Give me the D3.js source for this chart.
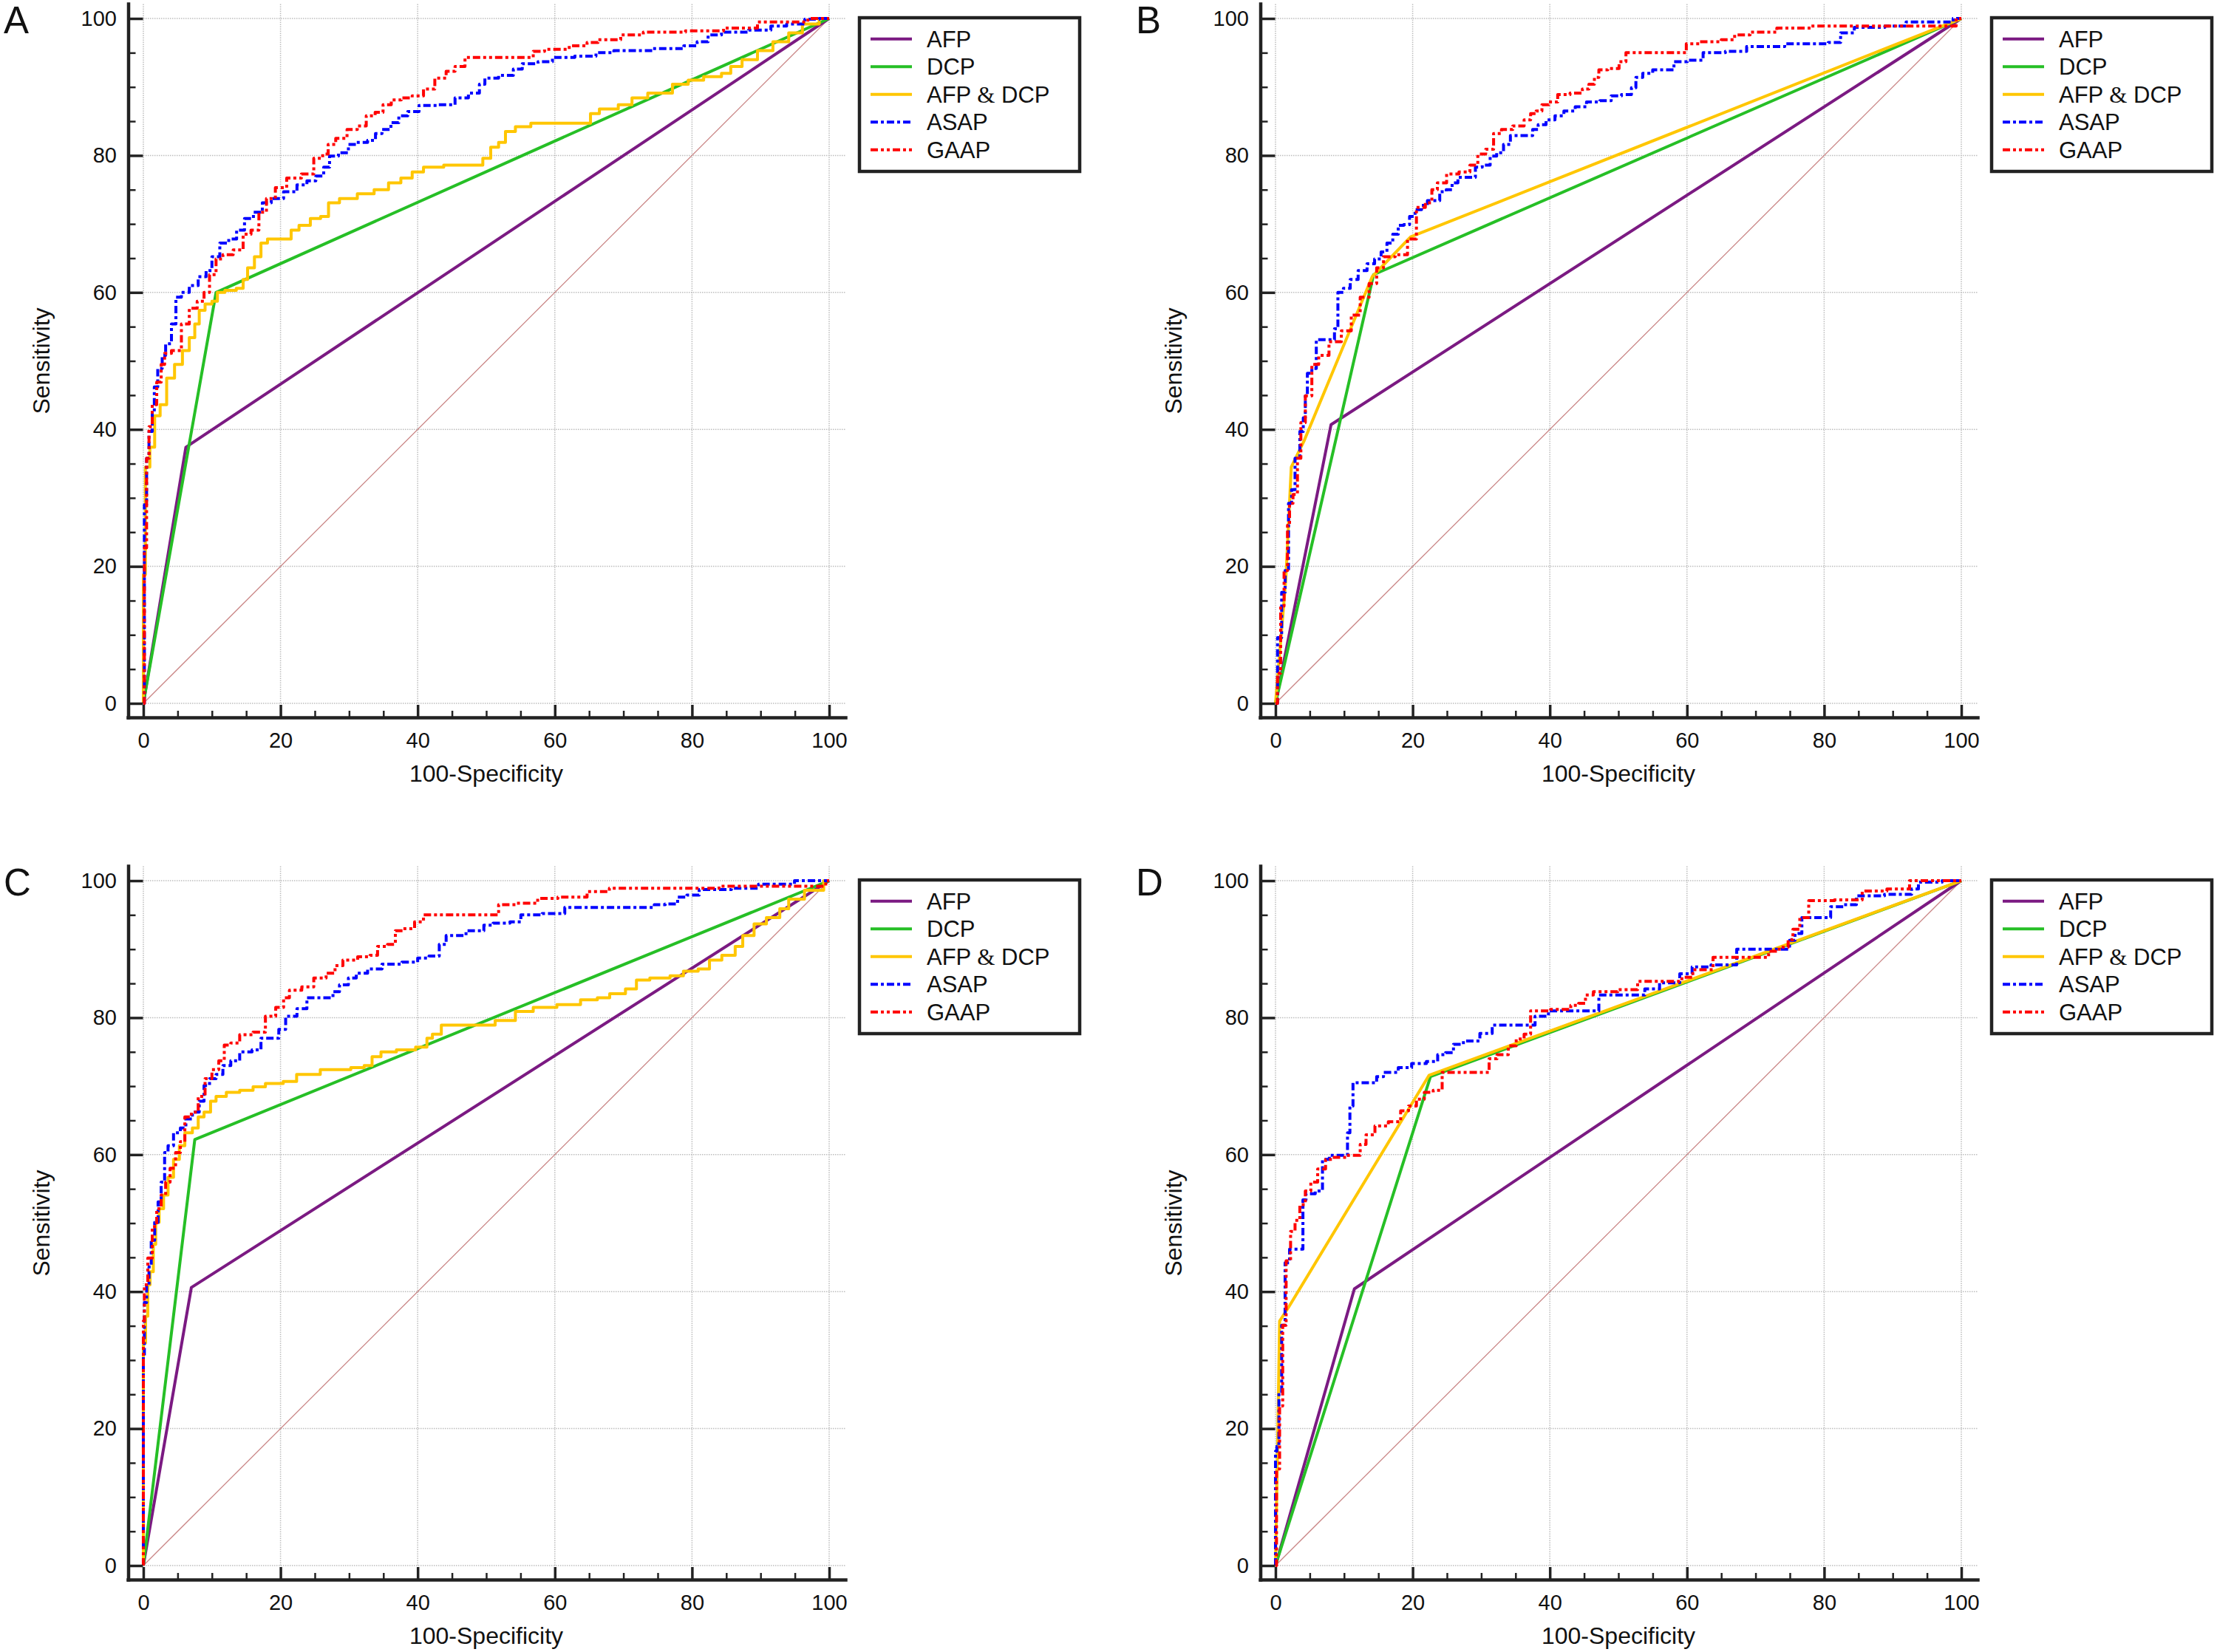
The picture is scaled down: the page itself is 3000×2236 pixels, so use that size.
<!DOCTYPE html>
<html>
<head>
<meta charset="utf-8">
<script src="https://cdn.jsdelivr.net/npm/d3@7"></script>
<style>
  body { margin: 0; background: #fff; }
  text { font-family: "Liberation Sans", Arial, sans-serif; fill: #111; }
</style>
</head>
<body>
<script>
// panel letters, series names and ticks
var panels = ["A", "B", "C", "D"];
var seriesNames = ["AFP", "DCP", "AFP & DCP", "ASAP", "GAAP"];
var majorTicks = [0, 20, 40, 60, 80, 100];
var minorTicks = [5, 10, 15, 25, 30, 35, 45, 50, 55, 65, 70, 75, 85, 90, 95];

// ROC points: [100-specificity, sensitivity]
var afpA = [[0,0],[6.2,37.4],[100,100]];
var dcpA = [[0,0],[10.6,60],[100,100]];
var comboA = [[0,0],[0,18.8],[0.6,34.5],[1.3,37.4],[2,42],[2.9,43.6],[3.9,47.5],[5.2,49.5],[6.2,51.5],[7.2,53.4],[7.8,55.4],[8.5,57.4],[9.5,58.3],[10.5,58.7],[11.1,60],[12.7,60.3],[14.4,60.6],[14.7,61.9],[15.7,63.6],[16.7,65.2],[17.6,67.2],[18.6,67.8],[21.2,67.8],[21.9,69.1],[23.5,69.8],[25.2,70.8],[26.5,71.1],[27.5,73.1],[29.7,73.7],[32.7,74.4],[34.6,75],[36.9,76],[38.2,76.7],[40.2,77.6],[41.5,78.3],[46.1,78.6],[49,78.6],[50,79.6],[51.3,81.2],[52.3,81.9],[53.3,83.5],[55.2,84.2],[57.8,84.7],[65,84.7],[65.4,86.1],[67.6,86.8],[70.9,87.4],[71.6,88.4],[75.5,89.1],[78.8,90.4],[80.1,91],[83.3,91.5],[85.3,92],[86,93],[88.6,94],[90.5,95.3],[93.1,96.6],[95.1,97.9],[97.1,99.2],[100,100]];
var asapA = [[0,0],[0.3,29],[0.65,35.8],[1,39.7],[1.6,42.3],[1.6,46.2],[2.6,48.9],[2.9,50.8],[3.6,52.5],[4.6,55.4],[4.9,59.3],[6.2,60],[7.2,61],[8.8,62.3],[9.5,63.2],[10.5,65.2],[11.8,67.2],[13.1,67.8],[14.1,69.1],[15.4,70.8],[16.7,71.7],[18,73.1],[19.3,73.7],[21.6,74.7],[23.2,75.7],[24.5,76.3],[25.8,77],[26.8,78.3],[27.5,79.9],[29.4,80.4],[30.4,81.6],[31.7,81.9],[33.7,82.2],[34,83.2],[35.6,83.8],[36.6,84.8],[37.9,85.8],[39.2,86.4],[41.2,87.3],[44.8,87.4],[46.1,88.4],[48.7,89.1],[49.3,90.4],[50.3,91.3],[53.3,91.7],[54.6,92.6],[55.9,93.4],[59.2,93.7],[60.1,94.3],[65.7,94.5],[66.3,95],[70.9,95.3],[77.5,95.6],[80.1,96],[81.4,96.6],[83.3,97.6],[85.3,98],[91.2,98.3],[91.8,98.9],[95.8,99.2],[97.1,99.9],[100,100]];
var gaapA = [[0,0],[0.3,22.7],[0.65,35.8],[1,40.4],[1.6,43.6],[2.3,46.9],[2.9,49.5],[3.3,51.1],[4.9,51.5],[6.2,55.4],[7.2,57.7],[8.5,58.7],[9.2,60],[10.1,62.6],[11.1,64.9],[12.1,65.5],[14.1,66.2],[15,68.5],[16.4,69.1],[17.3,71.7],[18.6,73.7],[19.9,75.3],[21.9,76.7],[24.2,77.3],[25.5,79.6],[26.8,80.2],[27.1,81.6],[29,82.5],[30.4,83.8],[32,84.3],[33,85.8],[34.6,86.3],[35.3,87.4],[37,88.1],[38.2,88.4],[40.2,88.7],[41.5,89.7],[43.5,91.3],[44.8,92.3],[46.1,93],[47.7,94.3],[56.5,94.3],[57.2,95.2],[59.8,95.5],[64.4,96],[65,96.5],[67.6,96.9],[71.6,97.6],[74.2,98],[83.9,98.2],[85.3,98.6],[93.8,99.5],[100,100]];

var afpB = [[0,0],[8.1,40.7],[100,100]];
var dcpB = [[0,0],[14.3,62.6],[100,100]];
var comboB = [[0,0],[1.5,18],[2.3,34.5],[4.2,38.4],[14.1,62.3],[19.7,68.1],[100,100]];
var asapB = [[0,0],[0.6,9.6],[1.2,16.2],[1.6,19.4],[2.2,29.2],[2.5,31.2],[3.2,35.8],[3.9,39.7],[4.2,41.7],[4.5,44.9],[4.8,48.2],[5.8,48.9],[6.1,53.1],[8.4,53.1],[8.8,54.7],[9.4,60],[10.4,60.6],[11.4,61.9],[12.7,63.2],[14,64.2],[14.9,64.9],[15.9,65.9],[16.6,67.2],[17.6,68.5],[18.2,69.8],[19.2,69.9],[19.9,71.1],[20.8,72.1],[21.8,72.7],[22.5,73.4],[23.5,73.4],[24.4,74.7],[25.4,75],[26.1,76],[27.1,76.8],[29,76.8],[29.3,78.3],[31,78.6],[31.6,79.9],[32.9,80.4],[33.6,81.6],[34.9,82.9],[37.2,82.9],[37.8,83.8],[38.8,84.5],[40.1,85.2],[41.4,85.8],[42.7,86.5],[44.7,87.1],[46,87.8],[48.6,88],[49.3,88.7],[51.6,88.9],[52.2,89.9],[52.9,91.4],[54.2,92],[55.8,92.5],[57.8,92.5],[58.4,93.7],[61.7,93.9],[63,95],[68.2,95.2],[69.2,95.9],[79.3,96.3],[81.9,96.5],[82.9,97.9],[85.9,98.7],[91.8,98.9],[92.1,99.5],[97.6,99.5],[100,100]];
var gaapB = [[0,0],[0.6,4.4],[0.9,14.2],[1.6,19.4],[1.9,26],[2.2,29.2],[2.9,30.5],[3.5,35.8],[3.9,41],[4.8,44.9],[5.8,49.5],[6.8,50.8],[8.8,52.8],[10.4,54.4],[11.7,56.7],[13,59.3],[14.3,61.3],[15.2,63.6],[16.3,65.2],[18.6,65.5],[19.9,67.8],[21.2,72.4],[22.5,73.1],[23.1,75],[24.1,76],[25.8,77.3],[27.7,77.6],[29,78.6],[30,80.2],[31.3,80.9],[32.3,83.2],[33.6,83.8],[35.6,84.3],[36.9,85.2],[37.5,86.1],[38.5,86.5],[39.2,87.4],[40.5,87.8],[41.8,88.9],[44.1,89.1],[45.4,89.7],[46,90.4],[47,91.4],[47.3,92.5],[49.6,92.7],[50.6,93.7],[51.6,95],[59.7,95],[60.1,96.3],[63.7,96.6],[66.3,96.9],[67.6,97.6],[70.8,98],[75.4,98.6],[80.7,98.9],[98.5,98.9],[100,100]];

var afpC = [[0,0],[7.0,40.6],[100,100]];
var dcpC = [[0,0],[7.5,62.2],[100,100]];
var comboC = [[0,0],[0,32.5],[0.65,36.4],[0.65,41],[1.3,42.9],[1.6,46.9],[2,50.1],[2.6,52.1],[3.3,54.1],[3.9,56.7],[4.9,59.3],[5.6,61.3],[6.5,63.2],[7.8,63.9],[8.2,65.5],[9.5,66.2],[10.1,67.8],[11.1,68.5],[13.1,69.1],[15,69.4],[17,69.9],[18.6,70.4],[22.2,70.7],[22.5,71.7],[29.1,72.4],[31.4,72.7],[33,73],[33.7,74.3],[35.6,75],[38.2,75.3],[41.2,75.7],[41.5,77],[42.8,77.6],[44.1,78.9],[49.3,78.9],[53.3,79.6],[55.2,80.9],[58.5,81.5],[62.1,81.9],[65.4,82.6],[67,82.9],[69,83.5],[71.6,84.2],[72.2,85.5],[75.5,85.8],[78.1,86.1],[79.4,86.8],[82.4,87.1],[82.7,88.4],[86,89.1],[86.6,90.4],[88.2,92],[89.9,93.7],[91.8,94.6],[93.8,95.9],[94.4,97.3],[98.4,98.6],[100,100]];
var asapC = [[0,0],[0,30.5],[0.3,38.4],[0.65,41],[1,43.6],[1.3,47.5],[2,50.1],[2.3,53.1],[2.9,56],[3.3,60.3],[3.9,61.3],[4.9,63.2],[5.9,63.9],[6.5,65.2],[7.8,66.2],[8.5,67.8],[9.2,70.1],[10.1,71.1],[11.1,71.7],[12.1,73],[13.4,73.7],[14.7,75],[17,75.3],[17.3,77],[19.6,77],[19.9,78.3],[21.6,80.2],[23.2,81.3],[24.5,82.9],[27.5,82.9],[27.8,83.8],[29.4,84.8],[30.4,85.8],[31.7,86.5],[33.7,87.1],[35.9,87.8],[39.5,88.1],[40.5,88.7],[42.8,89],[43.5,90.7],[44.8,92],[49.3,92.7],[50,93.5],[52,93.8],[54.9,94],[55.2,95],[61.1,95.2],[61.8,96.1],[74.2,96.1],[74.8,96.5],[77.4,96.6],[78.4,97.6],[80.1,97.9],[82,98.7],[89.5,98.9],[89.9,99.5],[100,100]];
var gaapC = [[0,0],[0,35.7],[0.3,41],[1,44.9],[1.6,49.5],[2.3,52.1],[2.9,54.1],[3.6,56],[4.2,58],[5.2,60.3],[5.6,61.9],[6.5,65.5],[7.5,66.2],[8.5,68.5],[9.5,71.1],[10.5,72.4],[11.5,73.7],[12.1,76],[13.4,76.3],[14.7,77.5],[17.3,77.9],[18.3,80.2],[20.3,81.5],[20.6,82.9],[22,84],[24.2,84.5],[25.5,85.8],[27.8,86.5],[28.1,87.6],[30.1,88.4],[32.4,88.9],[33.7,89.1],[34.6,90.4],[36.6,90.7],[36.9,92.7],[38.9,93],[40.2,94],[41.5,95],[51.3,95],[52.3,96.5],[56.5,96.7],[58.5,97.4],[62.4,97.6],[67,98.4],[68.9,98.9],[99,99.2],[100,100]];

var afpD = [[0,0],[11.5,40.4],[100,100]];
var dcpD = [[0,0],[22.6,71.4],[100,100]];
var comboD = [[0,0],[0.3,17],[0.6,35.7],[1.9,37.7],[22.4,71.6],[100,100]];
var asapD = [[0,0],[0,16.7],[0.4,17.4],[0.6,25.2],[1.2,35.1],[1.6,44.2],[2.5,46.2],[3.9,46.2],[4.1,53.4],[4.8,54.3],[6.8,54.7],[6.9,59.3],[8.8,59.9],[10.4,59.9],[10.6,63.2],[11.1,67.1],[11.5,70.5],[14.6,70.5],[14.9,71.4],[16.6,72],[19.2,72.7],[20.5,73.3],[23.5,73.6],[23.8,74.6],[25.8,74.9],[26.1,76.1],[28.7,76.6],[30.9,77.7],[32.3,78.9],[37.5,78.9],[38.2,80.2],[41.4,81],[47,81],[47.3,83.3],[53.5,83.3],[54.2,84.2],[57.8,85.1],[60.1,86.4],[61.4,87.4],[65.6,87.7],[68.9,90],[74.8,90],[75.1,91.3],[76.4,92.3],[77.1,94.6],[80.3,94.6],[81.6,96.2],[84.2,96.5],[85.2,97.8],[92.4,98],[93.1,98.8],[94.4,99.8],[100,100]];
var gaapD = [[0,0],[0.3,14.1],[0.9,23.3],[1.2,35.1],[1.9,44.5],[2.5,48.8],[3.2,50.4],[3.9,52.7],[4.8,54.7],[5.5,56],[6.8,57.9],[7.8,59.3],[8.8,59.6],[12,59.9],[12.7,61.5],[13.7,62.9],[15.3,64.2],[17.6,64.8],[18.9,66.4],[19.9,67.1],[21.2,68.1],[22.2,69.1],[23.8,69.4],[24.8,72],[31,72],[31.3,74],[33.3,74.6],[34.6,75.9],[35.6,76.9],[36.9,77.6],[37.5,81],[42.7,81.2],[43.4,81.8],[45,82.1],[45.4,83.3],[47.3,83.8],[52.5,84.1],[53.1,85.3],[58.8,85.3],[59.7,85.9],[62,87],[65.6,88.8],[71.3,88.8],[72.5,89.7],[74.4,90.3],[75.1,91.4],[75.8,92.9],[77.1,94.6],[78.4,97.1],[84.6,97.2],[86.5,98.5],[91.8,98.8],[93.1,100],[100,100]];

var panelSeries = [
  [afpA, dcpA, comboA, asapA, gaapA],
  [afpB, dcpB, comboB, asapB, gaapB],
  [afpC, dcpC, comboC, asapC, gaapC],
  [afpD, dcpD, comboD, asapD, gaapD]
];

// looks
var colors = ["#7b1a82", "#26bf26", "#ffc600", "#0000ff", "#ff0000"];
var widths = [4, 4, 4, 4, 4];
var dashes = [null, null, null, "10,4,4,4", "10,4,4,4,4,4"];
var offsets = [[0, 0], [1532, 0], [0, 1167], [1532, 1167]];
var font = "'Liberation Sans', Arial, sans-serif";

var svg = d3.select("body")
  .append("svg")
    .attr("width", 3000)
    .attr("height", 2236);

svg.append("rect").attr("width", 3000).attr("height", 2236).attr("fill", "#fff");

// shared scales (each panel is translated)
var x = d3.scaleLinear().domain([-2.26, 102.37]).range([173, 1144]);
var y = d3.scaleLinear().domain([-2.05, 102.16]).range([971, 5]);

var lineStep = d3.line()
  .curve(d3.curveStep)
  .x(function(d) { return x(d[0]); })
  .y(function(d) { return y(d[1]); });
var lineStraight = d3.line()
  .x(function(d) { return x(d[0]); })
  .y(function(d) { return y(d[1]); });

panels.forEach(function(letter, p) {
  var g = svg.append("g")
    .attr("transform", "translate(" + offsets[p][0] + "," + offsets[p][1] + ")");

  // dotted grid
  var grid = g.append("g")
    .attr("stroke", "#bdbdbd")
    .attr("stroke-width", 1.5)
    .attr("stroke-dasharray", "1.5,1.5");
  majorTicks.forEach(function(v) {
    grid.append("line")
      .attr("x1", x(v)).attr("x2", x(v))
      .attr("y1", y(0)).attr("y2", y(102.16));
    grid.append("line")
      .attr("x1", x(0)).attr("x2", x(102.37))
      .attr("y1", y(v)).attr("y2", y(v));
  });

  // reference diagonal
  g.append("line")
    .attr("x1", x(0)).attr("y1", y(0))
    .attr("x2", x(100)).attr("y2", y(100))
    .attr("stroke", "#c98585")
    .attr("stroke-width", 1.3);

  // curves
  panelSeries[p].forEach(function(pts, i) {
    var gen = pts.length > 8 ? lineStep : lineStraight;
    g.append("path")
      .datum(pts)
      .attr("fill", "none")
      .attr("stroke", colors[i])
      .attr("stroke-width", widths[i])
      .attr("stroke-linejoin", "round")
      .attr("stroke-dasharray", dashes[i])
      .attr("d", gen);
  });

  // x axis: minor then major ticks
  var xMinor = g.append("g")
    .attr("transform", "translate(0,971)")
    .call(d3.axisBottom(x).tickValues(minorTicks).tickSize(-9).tickFormat(""));
  xMinor.select(".domain").remove();
  xMinor.selectAll("line").attr("stroke", "#222").attr("stroke-width", 2.5);

  var xAxis = g.append("g")
    .attr("transform", "translate(0,971)")
    .call(d3.axisBottom(x).tickValues(majorTicks).tickSizeInner(-17).tickSizeOuter(0).tickPadding(20));
  xAxis.select(".domain").attr("stroke", "#222").attr("stroke-width", 4.5).attr("stroke-linecap", "square");
  xAxis.selectAll("line").attr("stroke", "#222").attr("stroke-width", 3.5);
  xAxis.selectAll("text").attr("font-size", 29).attr("font-family", font).attr("fill", "#111");

  // y axis
  var yMinor = g.append("g")
    .attr("transform", "translate(173.5,0)")
    .call(d3.axisLeft(y).tickValues(minorTicks).tickSize(-10).tickFormat(""));
  yMinor.select(".domain").remove();
  yMinor.selectAll("line").attr("stroke", "#222").attr("stroke-width", 2.5);

  var yAxis = g.append("g")
    .attr("transform", "translate(173.5,0)")
    .call(d3.axisLeft(y).tickValues(majorTicks).tickSizeInner(-20).tickSizeOuter(0).tickPadding(15.5));
  yAxis.select(".domain").attr("stroke", "#222").attr("stroke-width", 4.5).attr("stroke-linecap", "square");
  yAxis.selectAll("line").attr("stroke", "#222").attr("stroke-width", 3.5);
  yAxis.selectAll("text").attr("font-size", 29).attr("font-family", font).attr("fill", "#111");

  // axis titles
  g.append("text")
    .attr("transform", "translate(56," + (y(0) + y(100)) / 2 + ") rotate(-90)")
    .attr("text-anchor", "middle")
    .attr("dy", "0.35em")
    .style("font-size", "32px")
    .text("Sensitivity");
  g.append("text")
    .attr("x", (x(0) + x(100)) / 2)
    .attr("y", 1047)
    .attr("text-anchor", "middle")
    .attr("dy", "0.35em")
    .style("font-size", "32px")
    .text("100-Specificity");

  // panel letter
  g.append("text")
    .attr("x", 5)
    .attr("y", 45)
    .style("font-size", "51px")
    .text(letter);

  // handmade legend
  var lx = x(100) + 41, ly = y(100) - 1;
  g.append("rect")
    .attr("x", lx).attr("y", ly)
    .attr("width", 298).attr("height", 208)
    .attr("fill", "#fff")
    .attr("stroke", "#222")
    .attr("stroke-width", 4.5);
  seriesNames.forEach(function(name, i) {
    var cy = ly + 28.7 + i * 37.5;
    g.append("line")
      .attr("x1", lx + 15).attr("x2", lx + 71)
      .attr("y1", cy).attr("y2", cy)
      .attr("stroke", colors[i])
      .attr("stroke-width", 4)
      .attr("stroke-dasharray", dashes[i]);
    var t = g.append("text")
      .attr("x", lx + 91)
      .attr("y", cy)
      .attr("dy", "0.36em")
      .style("font-size", "31px");
    var parts = name.split("&");
    if (parts.length > 1) {
      t.append("tspan").text(parts[0]);
      t.append("tspan").style("font-family", "'Liberation Serif', serif").text("&");
      t.append("tspan").text(parts[1]);
    } else {
      t.text(name);
    }
  });
});
</script>
</body>
</html>
